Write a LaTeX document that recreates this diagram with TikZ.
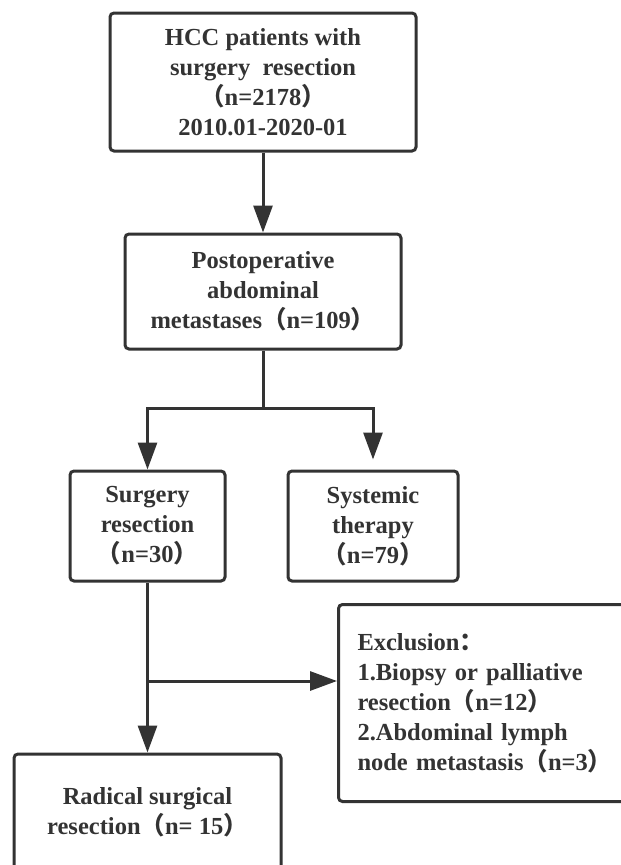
\documentclass[tikz,border=0pt]{standalone}
\usepackage{fontspec}
\setmainfont{Liberation Serif}
\newfontfamily\cjk{Noto Sans CJK SC}
\usetikzlibrary{arrows.meta, positioning}
\definecolor{linegray}{HTML}{333333}
\newcommand{\fwlp}{{\cjk （}}
\newcommand{\fwrp}{{\cjk ）}}
\newcommand{\fwcolon}{{\cjk ：}}

\begin{document}
\begin{tikzpicture}[x=1pt, y=-1pt,
    box/.style={rectangle, rounded corners=4pt, draw=linegray, line width=3pt, text=linegray, align=center, inner sep=0pt, font=\fontsize{24.5}{30}\selectfont\bfseries},
    flow/.style={-{Triangle[length=27pt, width=19pt]}, line width=3pt, draw=linegray},
    link/.style={line width=3pt, draw=linegray}
]
    \useasboundingbox (0,0) rectangle (621,865);

    % Cohort
    \node[box, minimum width=306pt, minimum height=138pt] (patients) at (263,82) {HCC patients with\\surgery\ \ resection\\\fwlp n=2178\fwrp\\2010.01-2020-01};
    \node[box, minimum width=276pt, minimum height=115pt] (postop) at (263,291.5) {Postoperative\\abdominal\\metastases\fwlp n=109\fwrp};
    \draw[flow] (patients) -- (postop);

    % Treatment split
    \node[box, minimum width=155pt, minimum height=110pt] (surgery) at (147.5,526) {Surgery\\resection\\\fwlp n=30\fwrp};
    \node[box, minimum width=170pt, minimum height=110pt] (systemic) at (373,526) {Systemic\\therapy\\\fwlp n=79\fwrp};
    \coordinate (split) at (263,408);
    \draw[link] (postop) -- (split);
    \draw[flow] (split) -| (surgery.north);
    \draw[flow, shorten >=10pt] (split) -| (systemic.north);

    % Exclusion and final group
    \node[box, anchor=north west, align=left, inner xsep=19pt, text width=281pt, minimum height=197pt] (exclusion) at (337,603) {Exclusion\fwcolon\\1.Biopsy or palliative\\resection\fwlp n=12\fwrp\\2.Abdominal lymph\\node metastasis\fwlp n=3\fwrp};
    \node[box, minimum width=267pt, minimum height=116pt] (radical) at (147.5,812) {Radical surgical\\resection\fwlp n= 15\fwrp};
    \coordinate (branch) at (147.5,681);
    \draw[flow] (surgery) -- (radical);
    \draw[flow] (branch) -- (branch -| exclusion.west);

\end{tikzpicture}
\end{document}
